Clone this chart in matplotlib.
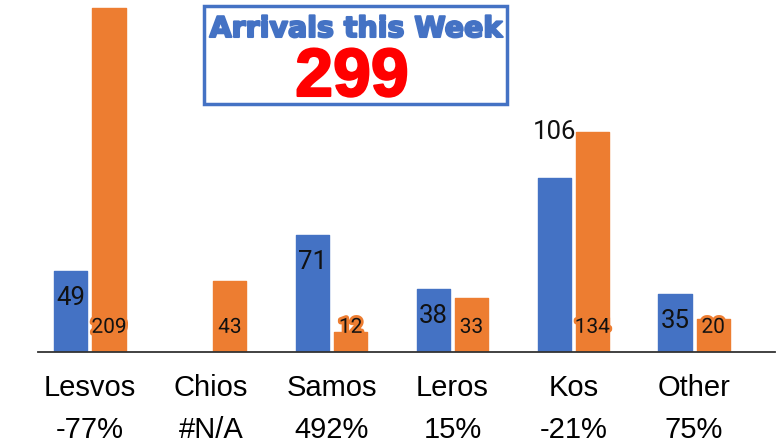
import matplotlib.pyplot as plt
import matplotlib.patheffects as pe
from matplotlib.patches import Rectangle

islands = ['Lesvos', 'Chios', 'Samos', 'Leros', 'Kos', 'Other']
this_week = [49, None, 71, 38, 106, 35]
last_week = [209, 43, 12, 33, 134, 20]
change = ['-77%', '#N/A', '492%', '15%', '-21%', '75%']
total = 299

blue = '#4472C4'
orange = '#ED7D31'

W, H = 780, 443
fig = plt.figure(figsize=(W / 100, H / 100), dpi=100)
# axes placed in pixels: baseline at y=352, left 38, right 775
ax = fig.add_axes([38 / W, (H - 352) / H, (775 - 38) / W, 352 / H])

x = list(range(len(islands)))
bw = 0.275
off = 0.158

xb = [i - off for i, v in zip(x, this_week) if v is not None]
vb = [v for v in this_week if v is not None]
ax.bar(xb, vb, bw, color=blue, edgecolor=blue, linewidth=1.0, joinstyle='round')
ax.bar([i + off for i in x], last_week, bw, color=orange, edgecolor=orange,
       linewidth=1.0, joinstyle='round')

ax.set_xlim(-0.43, 5.67)
ax.set_ylim(0, 214)

# labels for this week: near the top of the bar (Kos label sits higher)
for i, v in enumerate(this_week):
    if v is None:
        continue
    y = v - 16
    if islands[i] == 'Kos':
        y = last_week[i]
    ax.text(i - off, y, str(v), ha='center', va='center', fontsize=18.5,
            family='Roboto', color='#111111')

# labels for last week: at the base, with orange halo
for i, v in enumerate(last_week):
    ax.text(i + off, 15, str(v), ha='center', va='center', fontsize=15,
            family='Roboto', color='#111111',
            path_effects=[pe.withStroke(linewidth=4, foreground=orange)])

ax.set_xticks(x)
ax.set_xticklabels([f'{n}\n{c}' for n, c in zip(islands, change)],
                   fontsize=21, family='Liberation Sans', linespacing=1.62)
ax.tick_params(axis='x', length=0, pad=16)
ax.set_yticks([])
for s in ['top', 'right', 'left']:
    ax.spines[s].set_visible(False)
ax.spines['bottom'].set_color('#333333')
ax.spines['bottom'].set_linewidth(1.3)

# title box
fig.patches.append(Rectangle((204 / W, 1 - 104 / H), (507 - 204) / W, (104 - 6) / H,
                             transform=fig.transFigure, fill=False,
                             edgecolor=blue, linewidth=2.5, zorder=5))
fig.text(356 / W, 1 - 37 / H, 'Arrivals this Week', ha='center', va='baseline',
         fontsize=20.5, fontweight='bold', color=blue, family='DejaVu Sans',
         path_effects=[pe.withStroke(linewidth=1.5, foreground=blue)])
fig.text(352 / W, 1 - 96 / H, str(total), ha='center', va='baseline',
         fontsize=49, fontweight='bold', color='#FF0000', family='Liberation Sans',
         path_effects=[pe.withStroke(linewidth=1.5, foreground='#FF0000')])

fig.savefig('out.png', dpi=100)
